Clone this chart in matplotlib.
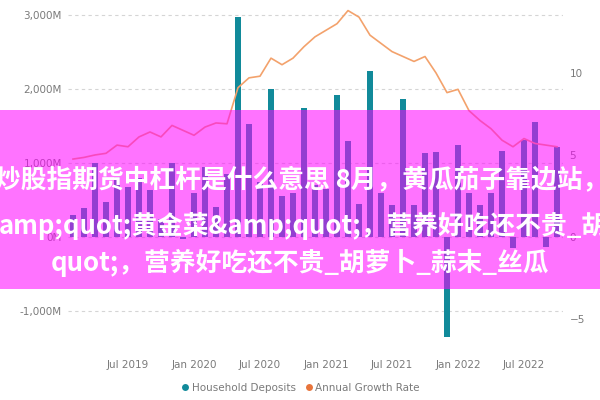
import numpy as np
import pandas as pd
import matplotlib
matplotlib.use("Agg")
import matplotlib.pyplot as plt
from matplotlib.lines import Line2D
from matplotlib.patches import Rectangle

# monthly categories, Feb 2019 .. Oct 2022
months = pd.date_range("2019-02-01", periods=45, freq="MS")

# household deposits, millions
deposits = [300, 390, 1000, 470, 810, 675, 800, 630, 250, 1000,
            -30, 600, 950, 400, 850, 2970, 1530, 750, 2000, 550,
            600, 1740, 700, 650, 1920, 1300, 450, 2245, 600, 430,
            1865, 430, 1135, 1150, -1350, 1245, 590, 430, 600, 1165,
            -150, 1310, 1555, -130, 1215]

# annual growth rate, %
growth = [4.75, 4.85, 5.0, 5.1, 5.6, 5.5, 6.1, 6.4, 6.1, 6.8,
          6.5, 6.2, 6.7, 6.95, 6.9, 9.1, 9.7, 9.8, 10.9, 10.5,
          10.9, 11.6, 12.2, 12.6, 13.0, 13.8, 13.4, 12.3, 11.8, 11.3,
          11.0, 10.7, 11.0, 10.0, 8.8, 9.0, 7.7, 7.1, 6.6, 5.9,
          5.5, 6.0, 5.7, 5.6, 5.5]

tick_labels = ["Jul 2019", "Jan 2020", "Jul 2020", "Jan 2021",
               "Jul 2021", "Jan 2022", "Jul 2022"]
left_ticks = [-1000, 0, 1000, 2000, 3000]
right_ticks = [-5, 0, 5, 10]

title1 = "炒股指期货中杠杆是什么意思 8月，黄瓜茄子靠边站，"
title2 = "amp;quot;黄金菜&amp;quot;，营养好吃还不贵_胡"
title3 = "quot;，营养好吃还不贵_胡萝卜_蒜末_丝瓜"

teal = "#118A9A"
orange_line = "#F3A26C"
orange_dot = "#E8743B"
grey = "#7A7A7A"

fig = plt.figure(figsize=(6, 4), dpi=100)
ax = fig.add_axes([0.1125, 0.1485, 0.825, 0.8325])

x = np.arange(len(months))
ax.bar(x, deposits, width=0.6, color=teal, zorder=2)
ax.set_xlim(-0.5, len(months) - 0.5)
ax.set_ylim(-1400, 3100)
ax.set_yticks(left_ticks)
ax.set_yticklabels([f"{v:,}M" for v in left_ticks])
ax.grid(axis="y", color="#D5D5D5", linestyle=(0, (3, 3)), linewidth=0.8, zorder=0)

tick_pos = [list(months.strftime("%b %Y")).index(t) for t in tick_labels]
ax.set_xticks(tick_pos)
ax.set_xticklabels(tick_labels)

ax2 = ax.twinx()
ax2.plot(x, growth, color=orange_line, linewidth=1.2, zorder=3)
ax2.set_ylim(-1400 * 0.00451, 3100 * 0.00451)
ax2.set_yticks(right_ticks)

for a in (ax, ax2):
    for s in a.spines.values():
        s.set_visible(False)
    a.tick_params(length=0, colors=grey, labelsize=7.5)
ax.tick_params(axis="x", pad=14)
ax.tick_params(axis="y", pad=4)
ax2.tick_params(axis="y", pad=5)

handles = [Line2D([], [], marker="o", color="none", markerfacecolor=teal,
                  markeredgecolor="none", markersize=5),
           Line2D([], [], marker="o", color="none", markerfacecolor=orange_dot,
                  markeredgecolor="none", markersize=5)]
fig.legend(handles, ["Household Deposits", "Annual Growth Rate"],
           loc="center", bbox_to_anchor=(0.5, 0.03), ncol=2, frameon=False,
           fontsize=7.5, labelcolor=grey, handletextpad=0.1, columnspacing=0.8,
           handlelength=1.0)

# pink overlay band with the page text
fig.patches.append(Rectangle((0, 0.2775), 1, 0.4475, transform=fig.transFigure,
                             facecolor="#FF00FF", alpha=0.55, edgecolor="none",
                             zorder=10))
fam = ["Noto Sans CJK SC", "DejaVu Sans"]
fig.text(-0.008, 1 - 180 / 400, title1, color="white", fontsize=18.5, fontweight="bold",
         family=fam, ha="left", va="center", zorder=11)
fig.text(-0.002, 1 - 226 / 400, title2, color="white", fontsize=18.5, fontweight="bold",
         family=fam, ha="left", va="center", zorder=11)
fig.text(0.5, 1 - 263 / 400, title3, color="white", fontsize=18.5, fontweight="bold",
         family=fam, ha="center", va="center", zorder=11)

fig.savefig("out.png", dpi=100)
